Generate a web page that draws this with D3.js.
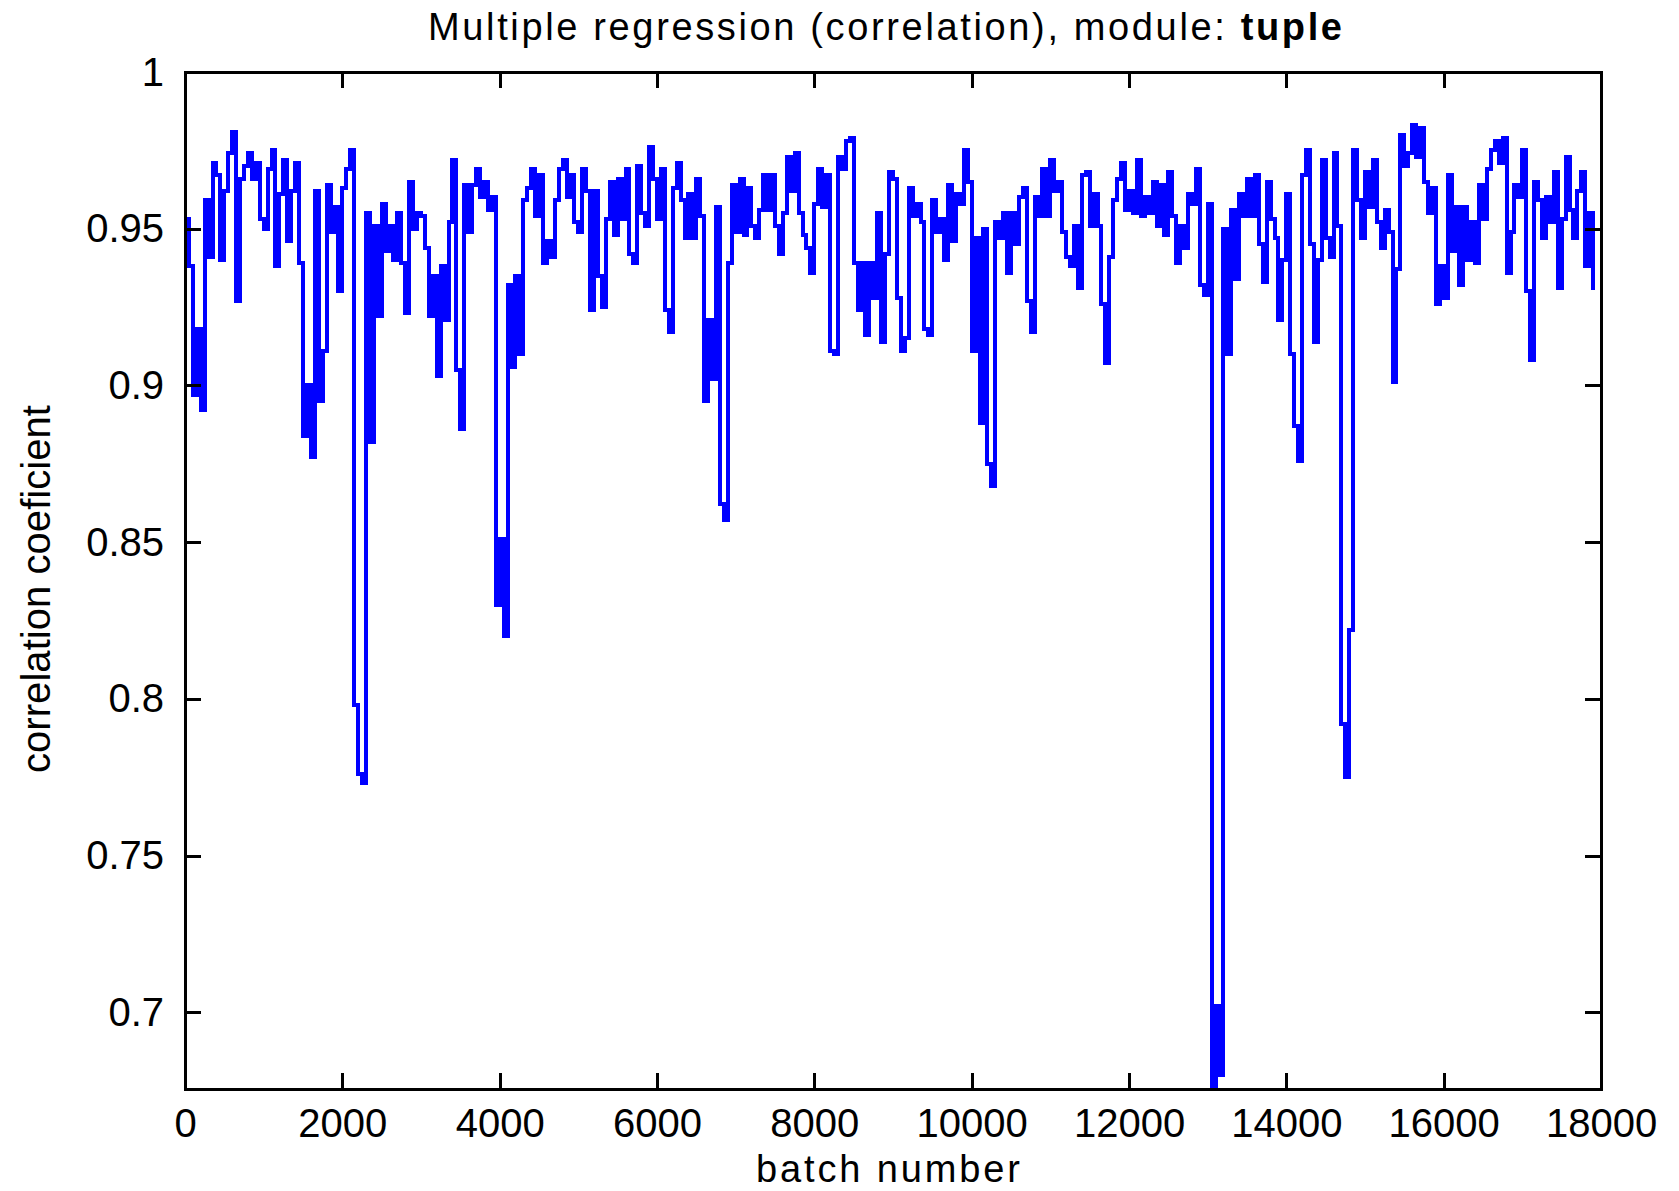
<!DOCTYPE html>
<html>
<head>
<meta charset="utf-8">
<script src="https://cdn.jsdelivr.net/npm/d3@7"></script>
<style>
  html, body { margin: 0; padding: 0; background: #fff; }
  svg { display: block; }
  text { font-family: "Liberation Sans", Arial, Helvetica, sans-serif; fill: #000; }
</style>
</head>
<body>
<svg id="chart" width="1679" height="1191"></svg>
<script>
// ---- data ----
const titleText = "Multiple regression (correlation), module: ";
const titleBold = "tuple";
const xLabel = "batch number";
const yLabel = "correlation coeficient";

const batchStep = 50; // batch number spacing between samples
const correlation = [
  0.953,0.938,0.897,0.918,0.892,0.959,0.941,0.971,0.967,0.940,
  0.962,0.974,0.981,0.927,0.966,0.970,0.974,0.966,0.971,0.953,
  0.950,0.969,0.975,0.938,0.961,0.972,0.946,0.962,0.971,0.939,
  0.884,0.900,0.877,0.962,0.895,0.911,0.964,0.949,0.957,0.930,
  0.963,0.969,0.975,0.798,0.776,0.773,0.955,0.882,0.951,0.922,
  0.958,0.943,0.951,0.940,0.955,0.939,0.923,0.965,0.950,0.955,
  0.954,0.944,0.922,0.935,0.903,0.938,0.921,0.952,0.972,0.905,
  0.886,0.964,0.949,0.964,0.969,0.960,0.965,0.956,0.960,0.830,
  0.851,0.820,0.932,0.906,0.935,0.910,0.959,0.963,0.969,0.954,
  0.967,0.939,0.946,0.941,0.959,0.969,0.972,0.960,0.967,0.952,
  0.949,0.969,0.962,0.924,0.962,0.935,0.925,0.953,0.965,0.948,
  0.966,0.953,0.969,0.942,0.939,0.970,0.955,0.951,0.976,0.966,
  0.953,0.969,0.924,0.917,0.963,0.971,0.959,0.947,0.961,0.947,
  0.966,0.954,0.895,0.921,0.902,0.957,0.862,0.857,0.939,0.964,
  0.949,0.966,0.948,0.963,0.951,0.947,0.956,0.967,0.956,0.967,
  0.951,0.942,0.955,0.973,0.962,0.974,0.955,0.948,0.944,0.936,
  0.958,0.969,0.957,0.967,0.911,0.910,0.973,0.969,0.978,0.979,
  0.939,0.924,0.939,0.916,0.939,0.928,0.955,0.914,0.942,0.968,
  0.966,0.928,0.911,0.915,0.963,0.954,0.958,0.952,0.918,0.916,
  0.959,0.949,0.953,0.940,0.964,0.946,0.961,0.958,0.975,0.965,
  0.911,0.947,0.888,0.950,0.875,0.868,0.952,0.947,0.955,0.936,
  0.955,0.945,0.960,0.963,0.927,0.917,0.960,0.954,0.969,0.954,
  0.972,0.962,0.965,0.949,0.941,0.938,0.951,0.931,0.967,0.968,
  0.951,0.961,0.951,0.926,0.907,0.941,0.959,0.966,0.971,0.956,
  0.962,0.955,0.972,0.954,0.960,0.955,0.965,0.951,0.964,0.948,
  0.968,0.954,0.939,0.951,0.944,0.961,0.958,0.969,0.932,0.929,
  0.958,0.676,0.702,0.680,0.950,0.910,0.956,0.934,0.961,0.954,
  0.966,0.954,0.967,0.945,0.933,0.965,0.953,0.947,0.921,0.940,
  0.961,0.910,0.887,0.876,0.967,0.975,0.945,0.914,0.940,0.972,
  0.947,0.941,0.974,0.951,0.792,0.775,0.822,0.975,0.959,0.947,
  0.968,0.957,0.972,0.952,0.944,0.956,0.949,0.901,0.937,0.980,
  0.970,0.974,0.983,0.973,0.982,0.965,0.955,0.963,0.926,0.938,
  0.928,0.967,0.943,0.957,0.932,0.957,0.940,0.952,0.939,0.964,
  0.953,0.969,0.975,0.978,0.971,0.979,0.936,0.949,0.964,0.960,
  0.975,0.930,0.908,0.965,0.959,0.947,0.960,0.952,0.968,0.931,
  0.953,0.973,0.956,0.947,0.962,0.968,0.938,0.955,0.931
];

const xTicks = [0, 2000, 4000, 6000, 8000, 10000, 12000, 14000, 16000, 18000];
const yTicks = [0.7, 0.75, 0.8, 0.85, 0.9, 0.95, 1];

(function () {
  // ---- layout ----
  const svg = d3.select("#chart");
  const pLeft = 185, pRight = 1601, pTop = 72, pBottom = 1089;
  const tickLen = 16;

  const x = d3.scaleLinear().domain([0, 18000]).range([pLeft, pRight]);
  const y = d3.scaleLinear().domain([0.6755, 1]).range([pBottom, pTop]);

  svg.append("rect").attr("width", 1679).attr("height", 1191).attr("fill", "#fff");

  // data line (stepped, as in the reference)
  const points = correlation.map((v, i) => ({ b: i * batchStep, v }));
  svg.append("clipPath").attr("id", "plotclip")
    .append("rect").attr("x", pLeft).attr("y", pTop)
    .attr("width", pRight - pLeft).attr("height", pBottom - pTop);

  svg.append("path")
    .datum(points)
    .attr("clip-path", "url(#plotclip)")
    .attr("fill", "none")
    .attr("stroke", "#0000ff")
    .attr("stroke-width", 4)
    .attr("stroke-linejoin", "miter")
    .attr("stroke-linecap", "square")
    .attr("shape-rendering", "crispEdges")
    .attr("d", d3.line().curve(d3.curveStepAfter).x(d => x(d.b)).y(d => y(d.v)));

  // axes (inward ticks, mirrored)
  function styleAxis(g) {
    g.select(".domain").remove();
    g.selectAll(".tick line").attr("stroke", "#000").attr("stroke-width", 3)
      .attr("shape-rendering", "crispEdges");
  }
  const fmtY = d => String(+d.toFixed(2));

  const gx = svg.append("g").attr("transform", `translate(0,${pBottom})`)
    .call(d3.axisBottom(x).tickValues(xTicks).tickSize(-tickLen).tickFormat(d3.format("d")));
  styleAxis(gx);
  gx.selectAll(".tick text")
    .attr("y", 48).attr("dy", null)
    .attr("font-size", 40).attr("font-family", null).attr("fill", "#000");

  const gxt = svg.append("g").attr("transform", `translate(0,${pTop})`)
    .call(d3.axisTop(x).tickValues(xTicks).tickSize(-tickLen).tickFormat(""));
  styleAxis(gxt);

  const gy = svg.append("g").attr("transform", `translate(${pLeft},0)`)
    .call(d3.axisLeft(y).tickValues(yTicks).tickSize(-tickLen).tickFormat(fmtY));
  styleAxis(gy);
  gy.selectAll(".tick text")
    .attr("x", -21).attr("dy", null).attr("y", 13)
    .attr("font-size", 40).attr("font-family", null).attr("fill", "#000");

  const gyr = svg.append("g").attr("transform", `translate(${pRight},0)`)
    .call(d3.axisRight(y).tickValues(yTicks).tickSize(-tickLen).tickFormat(""));
  styleAxis(gyr);

  // border
  svg.append("rect")
    .attr("x", pLeft).attr("y", pTop).attr("width", pRight - pLeft).attr("height", pBottom - pTop)
    .attr("fill", "none").attr("stroke", "#000").attr("stroke-width", 3)
    .attr("shape-rendering", "crispEdges");

  // title
  const title = svg.append("text")
    .attr("x", 428).attr("y", 40)
    .attr("font-size", 38)
    .attr("textLength", 914).attr("lengthAdjust", "spacing");
  title.append("tspan").text(titleText);
  title.append("tspan").attr("font-weight", "bold").text(titleBold);

  // axis labels
  svg.append("text")
    .attr("x", 888).attr("y", 1182)
    .attr("text-anchor", "middle")
    .attr("font-size", 38)
    .attr("textLength", 264).attr("lengthAdjust", "spacing")
    .text(xLabel);

  svg.append("text")
    .attr("transform", "translate(50,589) rotate(-90)")
    .attr("text-anchor", "middle")
    .attr("font-size", 40)
    .attr("textLength", 368).attr("lengthAdjust", "spacing")
    .text(yLabel);
})();
</script>
</body>
</html>
